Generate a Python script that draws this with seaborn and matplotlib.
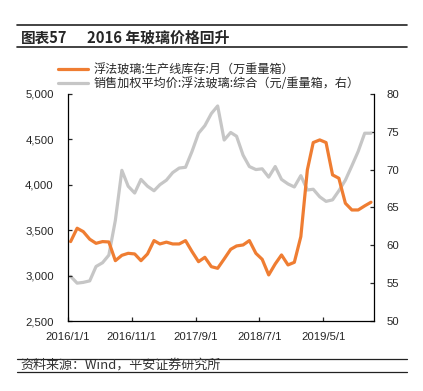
import pandas as pd
import matplotlib
matplotlib.use("Agg")
import matplotlib.pyplot as plt
import matplotlib.ticker as mticker
from matplotlib.lines import Line2D
from matplotlib.font_manager import FontProperties
import seaborn as sns

sns.set_style("ticks")
plt.rcParams["font.family"] = ["Liberation Sans", "Noto Sans CJK SC", "DejaVu Sans"]
plt.rcParams["axes.unicode_minus"] = False

# ---------------------------------------------------------------
# Data (monthly, 2016/1 - 2019/12)
# ---------------------------------------------------------------
months = pd.date_range("2016-01-01", periods=48, freq="MS") + pd.Timedelta(days=14)

inventory = [3374, 3521, 3484, 3400, 3355, 3374, 3370, 3164, 3223, 3245, 3238, 3164,
             3238, 3385, 3348, 3368, 3348, 3348, 3385, 3264, 3153, 3201, 3098, 3080,
             3183, 3289, 3326, 3337, 3385, 3245, 3179, 3007, 3128, 3227, 3117, 3146,
             3429, 4163, 4464, 4493, 4464, 4108, 4071, 3796, 3722, 3722, 3767, 3807]

price = [55.9, 55.0, 55.1, 55.3, 57.2, 57.7, 58.7, 63.3, 69.9, 67.8, 66.9, 68.7,
         67.8, 67.2, 68.0, 68.6, 69.6, 70.2, 70.3, 72.4, 74.8, 75.8, 77.4, 78.4,
         73.9, 74.9, 74.4, 71.9, 70.4, 70.0, 70.1, 69.0, 70.4, 68.7, 68.1, 67.7,
         69.2, 67.3, 67.4, 66.4, 65.8, 66.0, 67.2, 68.6, 70.5, 72.4, 74.8, 74.8]

xtick_labels = ["2016/1/1", "2016/11/1", "2017/9/1", "2018/7/1", "2019/5/1"]
label_inv = "浮法玻璃:生产线库存:月（万重量箱）"
label_price = "销售加权平均价:浮法玻璃:综合（元/重量箱，右）"

ORANGE = "#EF7D32"
GRAY = "#C6C6C6"
CJK = "Noto Sans CJK SC"

df = pd.DataFrame({"month": months, "inventory": inventory, "price": price})

# ---------------------------------------------------------------
# Figure
# ---------------------------------------------------------------
fig = plt.figure(figsize=(4.23, 3.91), dpi=100)
ax = fig.add_axes([0.160, 0.179, 0.725, 0.581])
ax2 = ax.twinx()

sns.lineplot(data=df, x="month", y="price", ax=ax2, color=GRAY, linewidth=2.3,
             label=label_price, legend=False)
sns.lineplot(data=df, x="month", y="inventory", ax=ax, color=ORANGE, linewidth=2.3,
             label=label_inv, legend=False)
ax.set_zorder(ax2.get_zorder() + 1)
ax.patch.set_visible(False)

ax.set_xlim(pd.Timestamp("2016-01-01"), pd.Timestamp("2019-12-31"))
ax.set_ylim(2500, 5000)
ax2.set_ylim(50, 80)
ax.set_yticks(range(2500, 5001, 500))
ax2.set_yticks(range(50, 81, 5))
ax.yaxis.set_major_formatter(mticker.StrMethodFormatter("{x:,.0f}"))
ax.set_xticks(pd.to_datetime(xtick_labels))
ax.set_xticklabels(xtick_labels)
ax.set_xlabel("")
ax.set_ylabel("")
ax2.set_ylabel("")

for a in (ax, ax2):
    for side in ("left", "right", "bottom"):
        a.spines[side].set_linewidth(0.9)
        a.spines[side].set_color("black")
    a.spines["top"].set_visible(False)
ax.spines["right"].set_visible(False)
ax2.spines["left"].set_visible(False)
ax2.spines["bottom"].set_visible(False)

ax.tick_params(axis="y", direction="in", length=3, width=0.9, pad=10, labelsize=8.2)
ax.tick_params(axis="x", direction="in", length=3, width=0.9, pad=8, labelsize=8.2)
ax2.tick_params(axis="y", direction="in", length=3, width=0.9, pad=9, labelsize=8.2)

# legend above the axes
h1, l1 = ax.get_legend_handles_labels()
h2, l2 = ax2.get_legend_handles_labels()
fig.legend(h1 + h2, l1 + l2, loc="upper left", bbox_to_anchor=(0.137, 0.838),
           frameon=False, prop=FontProperties(family=CJK, size=8.7),
           handlelength=2.5, handletextpad=0.45, labelspacing=0.08,
           borderpad=0, borderaxespad=0)

# title block
fig.add_artist(Line2D([0.040, 0.9615], [0.936, 0.936], color="#222222", lw=1.2))
fig.add_artist(Line2D([0.040, 0.9615], [0.879, 0.879], color="#222222", lw=1.2))
fig.text(0.049, 0.9036, "图表57", family=CJK, fontsize=10.5, fontweight="bold", va="center")
fig.text(0.2057, 0.9036, "2016 年玻璃价格回升", family=CJK, fontsize=10.7,
         fontweight="bold", va="center")

# source block
fig.add_artist(Line2D([0.040, 0.9615], [0.0826, 0.0826], color="#222222", lw=0.9))
fig.add_artist(Line2D([0.040, 0.9615], [0.0486, 0.0486], color="#222222", lw=0.9))
fig.text(0.049, 0.0652, "资料来源：Wind，平安证券研究所", family=CJK, fontsize=9.4,
         style="italic", va="center", color="#333333")

fig.savefig("out.png", dpi=100)
